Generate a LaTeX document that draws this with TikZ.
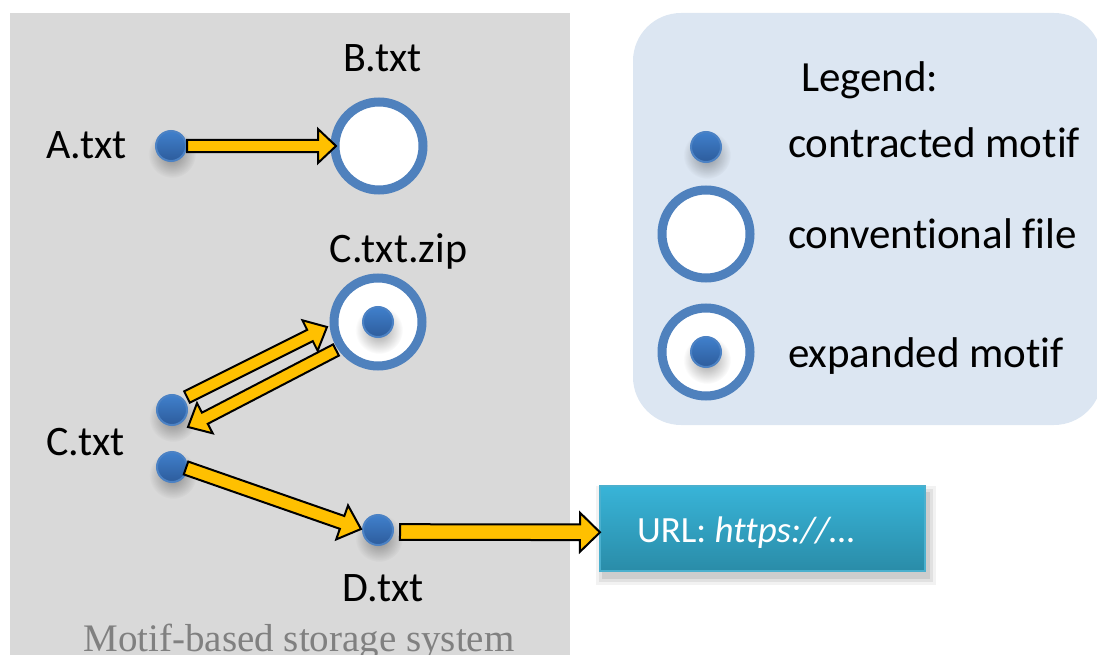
\documentclass[tikz,border=0pt]{standalone}
\usepackage{fontspec}
\setmainfont[Ligatures=NoCommon]{Carlito}
\newfontfamily\captionserif{Liberation Serif}
\usetikzlibrary{calc,fadings}

\definecolor{panelgray}{HTML}{D9D9D9}
\definecolor{legendblue}{HTML}{DCE6F2}
\definecolor{ringblue}{HTML}{4F81BD}
\definecolor{dottop}{HTML}{4080CC}
\definecolor{dotbottom}{HTML}{2D5C9C}
\definecolor{dotedge}{HTML}{4C82C4}
\definecolor{arrowgold}{HTML}{FFC000}
\definecolor{urltop}{HTML}{38B4D8}
\definecolor{urlbottom}{HTML}{2A8CA8}
\definecolor{urledge}{HTML}{4BB0CE}
\definecolor{captiongray}{HTML}{808080}

% soft blob used for the drop shadows under the dots
\tikzfading[name=softblob, inner color=transparent!30, outer color=transparent!100]

\begin{document}
\begin{tikzpicture}[x=1pt, y=-1pt,
  every node/.style={inner sep=0pt, outer sep=0pt},
  filelabel/.style={font=\fontsize{42}{50}\selectfont},
  legendtext/.style={font=\fontsize{43}{52}\selectfont, anchor=base west},
  motifdot/.style={circle, minimum size=30pt, top color=dottop, bottom color=dotbottom,
    draw=dotedge, line width=2pt},
  filering/.style={circle, minimum size=88pt, fill=white, draw=ringblue, line width=9pt},
  softshadow/.style={fill=black, opacity=0.55, path fading=softblob},
  urlbox/.style={rectangle, minimum width=325pt, minimum height=85pt,
    top color=urltop, bottom color=urlbottom, draw=urledge, line width=2pt},
  % block arrow from the start point to the tip point;
  % arguments: half shaft width, half head width, head length
  blockarrow/.style n args={3}{draw=black, line width=2pt, fill=arrowgold, line join=miter,
    to path={let \p1=(\tikztostart), \p2=(\tikztotarget),
      \n1={atan2(\y2-\y1,\x2-\x1)}, \n2={veclen(\x2-\x1,\y2-\y1)} in
      {[shift={(\p1)}, rotate=\n1]
        (0pt,-#1) -- ({\n2*1pt-#3},-#1) -- ({\n2*1pt-#3},-#2)
        -- ({\n2*1pt},0pt) -- ({\n2*1pt-#3},#2) -- ({\n2*1pt-#3},#1)
        -- (0pt,#1) -- cycle}}},
]
\useasboundingbox (0,0) rectangle (1097,655);

% storage panel and legend panel
\fill[panelgray] (10,13) rectangle (570,662);
\fill[legendblue, rounded corners=48] (633,13) rectangle (1102,425);

% positions of the motifs and files
\coordinate (pA) at (171,146);
\coordinate (pB) at (379,146);
\coordinate (pZ) at (378,322);
\coordinate (pC1) at (172,410);
\coordinate (pC2) at (172,467);
\coordinate (pD) at (378,530);
\coordinate (pL1) at (706,147);
\coordinate (pL2) at (706,234);
\coordinate (pL3) at (706,352);

% shadow of the link box
\foreach \k/\o in {7/0.05,4/0.07,1/0.09}
  \fill[black, opacity=\o] (603-\k,493-\k) rectangle (929+\k,578+\k);

% shadows under the dots
\foreach \p in {pA,pC1,pC2,pD,pL1}
  \fill[softshadow] ($(\p)+(1,8)$) circle (24);

% files
\node (B) [filering] at (pB) {};
\node (Z) [filering] at (pZ) {};
\fill[softshadow] ($(pZ)+(1,8)$) circle (24);
\node (Zdot) [motifdot] at (pZ) {};

% contracted motifs
\node (A) [motifdot] at (pA) {};
\node (C1) [motifdot] at (pC1) {};
\node (C2) [motifdot] at (pC2) {};
\node (D) [motifdot] at (pD) {};

% link target
\node (U) [urlbox] at (762.5,528.5) {};
\node (urltext) [anchor=base west, text=white, font=\fontsize{37}{44}\selectfont]
  at (637,542) {URL: \textit{https://…}};

% file names
\node (Alabel) [filelabel, anchor=base west] at (46,159) {A.txt};
\node (Blabel) [filelabel, anchor=base] at (382.5,72) {B.txt};
\node (Zlabel) [filelabel, anchor=base] at (398.5,262) {C.txt.zip};
\node (Clabel) [filelabel, anchor=base west] at (46.5,455) {C.txt};
\node (Dlabel) [filelabel, anchor=base] at (383,601) {D.txt};

% links between motifs and files
\draw[blockarrow={6.2pt}{17pt}{18pt}] ($(A)+(16,0)$) to ($(B)+(-43,0)$);
\draw[blockarrow={6.3pt}{17pt}{19pt}] ($(C1)+(15,-13)$) to ($(Z)+(-51,5)$);
\draw[blockarrow={6.3pt}{17pt}{19pt}] ($(Z)+(-42,28)$) to ($(C1)+(16,17)$);
\draw[blockarrow={6.8pt}{18pt}{20pt}] ($(C2)+(14,1)$) to ($(D)+(-17,-1)$);
\draw[blockarrow={7.8pt}{19.5pt}{20pt}] ($(D)+(22,2)$) to ($(U.west)+(0,3.8)$);

% legend
\node (legendtitle) [legendtext] at (801,92) {Legend:};
\node (L1) [motifdot] at (pL1) {};
\node (L2) [filering] at (pL2) {};
\node (L3) [filering] at (pL3) {};
\fill[softshadow] ($(pL3)+(1,8)$) circle (24);
\node (L3dot) [motifdot] at (pL3) {};
\node (L1text) [legendtext] at (788,158) {contracted motif};
\node (L2text) [legendtext] at (788,248) {conventional file};
\node (L3text) [legendtext] at (788,367) {expanded motif};

% panel caption
\node (caption) [anchor=base, text=captiongray, font=\captionserif\fontsize{39}{46}\selectfont]
  at (299,651) {Motif-based storage system};
\end{tikzpicture}
\end{document}
